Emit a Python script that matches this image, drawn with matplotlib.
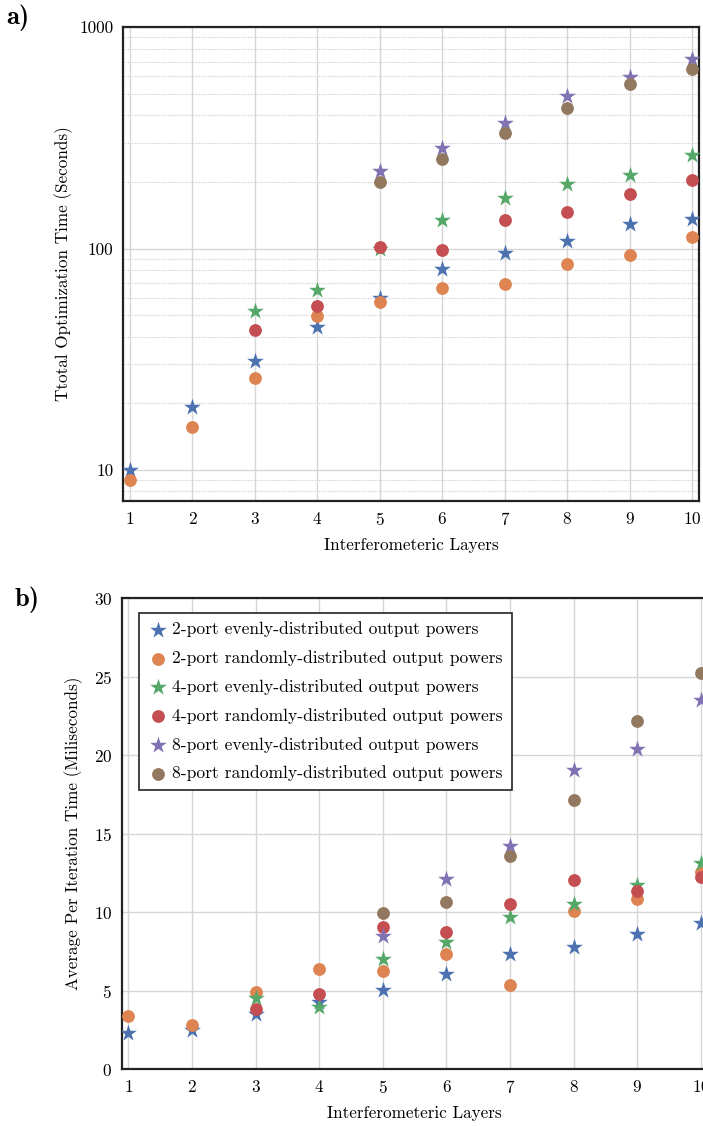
import numpy as np
import matplotlib
matplotlib.use("Agg")
import matplotlib.pyplot as plt
from matplotlib.ticker import FixedLocator, FormatStrFormatter, LogLocator, NullFormatter

plt.rcParams['font.family'] = 'cmr10'
plt.rcParams['axes.formatter.use_mathtext'] = True
plt.rcParams['mathtext.fontset'] = 'cm'

layers = np.arange(1, 11)

# total optimization time (s), panel a
total_2_even = [10.0, 19.2, 31.2, 44.0, 59.8, 80.9, 95.6, 108.7, 129.8, 136.7]
total_2_rand = [9.0, 15.6, 25.9, 49.4, 57.2, 66.1, 69.4, 85.5, 93.6, 113.0]
total_4_even = [np.nan, np.nan, 52.4, 65.2, 99.7, 135.3, 169.6, 196.0, 215.6, 263.5]
total_4_rand = [np.nan, np.nan, 43.0, 54.8, 101.4, 98.3, 135.3, 146.6, 176.0, 204.6]
total_8_even = [np.nan] * 4 + [223.8, 285.5, 367.9, 489.0, 598.0, 721.0]
total_8_rand = [np.nan] * 4 + [199.5, 252.8, 331.5, 433.0, 552.0, 645.0]

# average time per iteration (ms), panel b
iter_2_even = [2.28, 2.49, 3.49, 4.29, 5.04, 6.06, 7.31, 7.80, 8.59, 9.33]
iter_2_rand = [3.40, 2.85, 4.89, 6.36, 6.27, 7.33, 5.36, 10.08, 10.84, 12.58]
iter_4_even = [np.nan, np.nan, 4.55, 3.97, 7.00, 8.12, 9.71, 10.52, 11.73, 13.16]
iter_4_rand = [np.nan, np.nan, 3.83, 4.78, 9.04, 8.76, 10.50, 12.05, 11.35, 12.22]
iter_8_even = [np.nan] * 4 + [8.50, 12.12, 14.22, 19.07, 20.41, 23.53]
iter_8_rand = [np.nan] * 4 + [9.97, 10.63, 13.58, 17.16, 22.19, 25.24]

labels = ["2-port evenly-distributed output powers",
          "2-port randomly-distributed output powers",
          "4-port evenly-distributed output powers",
          "4-port randomly-distributed output powers",
          "8-port evenly-distributed output powers",
          "8-port randomly-distributed output powers"]
colors = ["#4C72B0", "#DD8452", "#55A868", "#C44E52", "#8172B3", "#937860"]
markers = ["*", "o", "*", "o", "*", "o"]
sizes = [160, 85, 160, 85, 160, 85]

panel_a = [total_2_even, total_2_rand, total_4_even, total_4_rand, total_8_even, total_8_rand]
panel_b = [iter_2_even, iter_2_rand, iter_4_even, iter_4_rand, iter_8_even, iter_8_rand]

fig = plt.figure(figsize=(7.03, 11.26), dpi=100)
ax1 = fig.add_axes([0.1754, 0.5551, 0.8185, 0.4207])
ax2 = fig.add_axes([0.1731, 0.0504, 0.8334, 0.4183])


def style_axes(ax):
    ax.set_axisbelow(True)
    for sp in ax.spines.values():
        sp.set_color("#222222")
        sp.set_linewidth(1.6)
    ax.tick_params(axis="both", which="both", length=0, labelsize=12.3, pad=7)
    ax.grid(True, which="major", color="#d6d6d6", linewidth=1.0)
    ax.set_xticks(layers)
    ax.set_xlabel("Interferometeric Layers", fontsize=12.3, labelpad=7)


for vals, c, m, s in zip(panel_a, colors, markers, sizes):
    ax1.scatter(layers, vals, color=c, marker=m, s=s, linewidths=0, zorder=3)
ax1.set_yscale("log")
ax1.set_xlim(0.893, 10.107)
ax1.set_ylim(7.24, 1000)
ax1.yaxis.set_major_locator(FixedLocator([10, 100, 1000]))
ax1.yaxis.set_major_formatter(FormatStrFormatter("%d"))
ax1.yaxis.set_minor_locator(LogLocator(base=10, subs=np.arange(2, 10)))
ax1.yaxis.set_minor_formatter(NullFormatter())
style_axes(ax1)
ax1.grid(True, which="minor", axis="y", color="#cfcfcf", linewidth=0.8, linestyle=(0, (1, 1)))
ax1.set_ylabel("Ttotal Optimization Time (Seconds)", fontsize=12.3)
ax1.yaxis.set_label_coords(-0.087, 0.5)

for vals, c, m, s, lab in zip(panel_b, colors, markers, sizes, labels):
    ax2.scatter(layers, vals, color=c, marker=m, s=s, linewidths=0, zorder=3, label=lab)
ax2.set_xlim(0.896, 10.104)
ax2.set_ylim(0, 30)
ax2.set_yticks([0, 5, 10, 15, 20, 25, 30])
style_axes(ax2)
ax2.set_ylabel("Average Per Iteration Time (Miliseconds)", fontsize=12.3)
ax2.yaxis.set_label_coords(-0.066, 0.5)

leg = ax2.legend(loc="upper left", bbox_to_anchor=(0.0295, 0.969), borderaxespad=0,
                 fontsize=12.6, frameon=True, fancybox=False, framealpha=1,
                 edgecolor="#222222", labelspacing=0.74, handletextpad=0.2,
                 handlelength=1.2, borderpad=0.5)
leg.get_frame().set_linewidth(1.2)

fig.text(0.026, 0.984, "a)", fontsize=19, family="cmb10", ha="center", va="center")
fig.text(0.038, 0.467, "b)", fontsize=19, family="cmb10", ha="center", va="center")

fig.savefig("out.png", dpi=100)
